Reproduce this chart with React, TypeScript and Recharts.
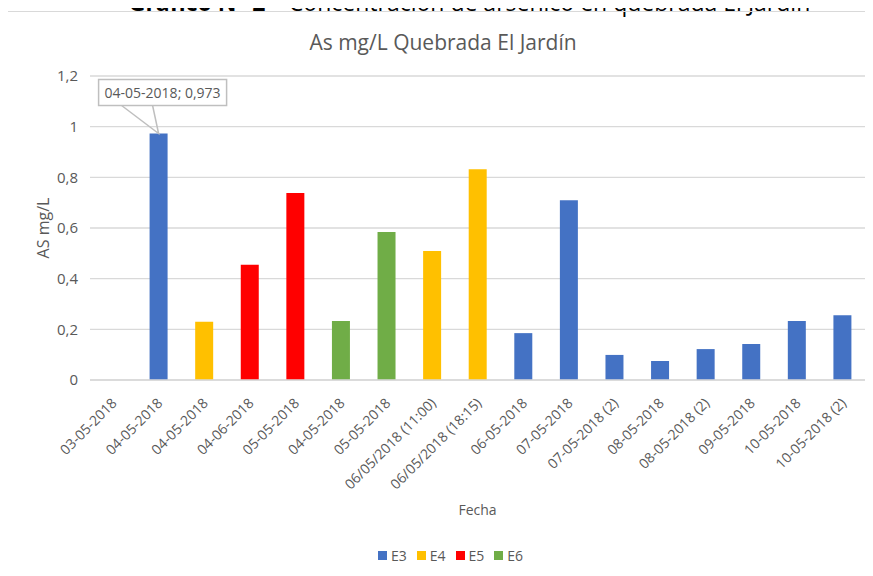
import { BarChart, Bar, XAxis, YAxis, CartesianGrid, Legend, LabelList } from 'recharts';

const categories = [
  '03-05-2018',
  '04-05-2018',
  '04-05-2018',
  '04-06-2018',
  '05-05-2018',
  '04-05-2018',
  '05-05-2018',
  '06/05/2018 (11:00)',
  '06/05/2018 (18:15)',
  '06-05-2018',
  '07-05-2018',
  '07-05-2018 (2)',
  '08-05-2018',
  '08-05-2018 (2)',
  '09-05-2018',
  '10-05-2018',
  '10-05-2018 (2)',
];

const e3 = [null, 0.973, null, null, null, null, null, null, null, 0.185, 0.71, 0.099, 0.075, 0.122, 0.142, 0.233, 0.256];
const e4 = [null, null, 0.23, null, null, null, null, 0.509, 0.832, null, null, null, null, null, null, null, null];
const e5 = [null, null, null, 0.455, 0.738, null, null, null, null, null, null, null, null, null, null, null, null];
const e6 = [null, null, null, null, null, 0.233, 0.584, null, null, null, null, null, null, null, null, null, null];

const yTicks = [0, 0.2, 0.4, 0.6, 0.8, 1, 1.2];

const series = [
  { key: 'E3', color: '#4472C4' },
  { key: 'E4', color: '#FFC000' },
  { key: 'E5', color: '#FF0000' },
  { key: 'E6', color: '#70AD47' },
];

const data = categories.map((fecha, i) => ({
  fecha,
  E3: e3[i],
  E4: e4[i],
  E5: e5[i],
  E6: e6[i],
}));

// the callout points at the highest E3 reading
const peak = Math.max(...(e3.filter((v) => v != null) as number[]));
const peakIndex = e3.indexOf(peak);

const TEXT = '#595959';
const FONT = '"Open Sans", "Liberation Sans", sans-serif';
const fmt = (v: number) => String(v).replace('.', ',');

function XTick({ x, y, payload }: any) {
  const ax = x + 5;
  const ay = y + 16;
  return (
    <text
      x={ax}
      y={ay}
      transform={`rotate(-45, ${ax}, ${ay})`}
      textAnchor="end"
      fontSize={14}
      fill={TEXT}
      fontFamily={FONT}
    >
      {payload.value}
    </text>
  );
}

function Callout({ x, y, width, value }: any) {
  if (value !== peak) return null;
  const cx = x + width / 2;
  const top = y;
  const bx = cx - 60;
  const by = top - 54;
  const bw = 128;
  const bh = 26;
  return (
    <g>
      <path
        d={`M${cx - 37},${by + bh} L${cx},${top} L${cx - 6},${by + bh}`}
        fill="none"
        stroke="#bfbfbf"
        strokeWidth={1.5}
      />
      <rect x={bx} y={by} width={bw} height={bh} fill="#fff" stroke="#bfbfbf" strokeWidth={1.5} />
      <text x={bx + bw / 2} y={by + 18} textAnchor="middle" fontSize={14} fill={TEXT} fontFamily={FONT}>
        {`${categories[peakIndex]}; ${fmt(value)}`}
      </text>
    </g>
  );
}

function LegendContent() {
  return (
    <div style={{ display: 'flex', justifyContent: 'center', paddingLeft: 46, fontFamily: FONT, fontSize: 14, color: TEXT }}>
      {series.map((s) => (
        <div key={s.key} style={{ display: 'flex', alignItems: 'center', marginRight: 10 }}>
          <span style={{ display: 'inline-block', width: 9, height: 9, background: s.color, marginRight: 4 }} />
          <span>{s.key}</span>
        </div>
      ))}
    </div>
  );
}

export default function App() {
  return (
    <div style={{ position: 'relative', margin: -8, width: 873, height: 576, overflow: 'hidden', background: '#fff' }}>
      <div
        style={{
          position: 'absolute',
          top: -10,
          left: 0,
          width: 873,
          textAlign: 'center',
          fontFamily: FONT,
          fontSize: 23,
          lineHeight: '24px',
          color: '#000',
          whiteSpace: 'nowrap',
          paddingLeft: 66,
          boxSizing: 'border-box',
        }}
      >
        <b>Gráfico N° 2</b> – Concentración de arsénico en quebrada El Jardín
      </div>
      <div
        style={{
          position: 'absolute',
          top: 11,
          left: 7,
          width: 880,
          height: 600,
          border: '1px solid #d9d9d9',
        }}
      />
      <div
        style={{
          position: 'absolute',
          top: 28,
          left: 0,
          width: 886,
          textAlign: 'center',
          fontFamily: FONT,
          fontSize: 21,
          color: TEXT,
        }}
      >
        As mg/L Quebrada El Jardín
      </div>
      <div style={{ position: 'absolute', top: 0, left: 0 }}>
        <BarChart
          width={873}
          height={576}
          data={data}
          margin={{ top: 76, right: 8, left: 0, bottom: 8 }}
          barSize={18}
        >
          <CartesianGrid vertical={false} stroke="#d9d9d9" strokeWidth={1.3} />
          <XAxis
            dataKey="fecha"
            interval={0}
            height={166}
            tickLine={false}
            axisLine={{ stroke: '#d9d9d9', strokeWidth: 1.3 }}
            tick={<XTick />}
            label={{
              content: (p: any) => {
                const vb = p.viewBox;
                return (
                  <text
                    x={vb.x + vb.width / 2}
                    y={vb.y + 135}
                    textAnchor="middle"
                    fontSize={14}
                    fill={TEXT}
                    fontFamily={FONT}
                  >
                    Fecha
                  </text>
                );
              },
            }}
          />
          <YAxis
            width={90}
            domain={[0, 1.2]}
            ticks={yTicks}
            tickFormatter={fmt}
            axisLine={false}
            tickLine={false}
            tick={{ fontSize: 15, fill: TEXT, fontFamily: FONT }}
            tickMargin={6}
            label={{
              content: (p: any) => {
                const vb = p.viewBox;
                const cx = vb.x + 43;
                const cy = vb.y + vb.height / 2;
                return (
                  <text
                    x={cx}
                    y={cy}
                    transform={`rotate(-90, ${cx}, ${cy})`}
                    textAnchor="middle"
                    dominantBaseline="central"
                    fontSize={16}
                    fill={TEXT}
                    fontFamily={FONT}
                  >
                    AS mg/L
                  </text>
                );
              },
            }}
          />
          <Legend verticalAlign="bottom" height={22} content={<LegendContent />} />
          {series.map((s) => (
            <Bar key={s.key} dataKey={s.key} stackId="a" fill={s.color} isAnimationActive={false}>
              {s.key === 'E3' && <LabelList dataKey="E3" content={<Callout />} />}
            </Bar>
          ))}
        </BarChart>
      </div>
    </div>
  );
}
